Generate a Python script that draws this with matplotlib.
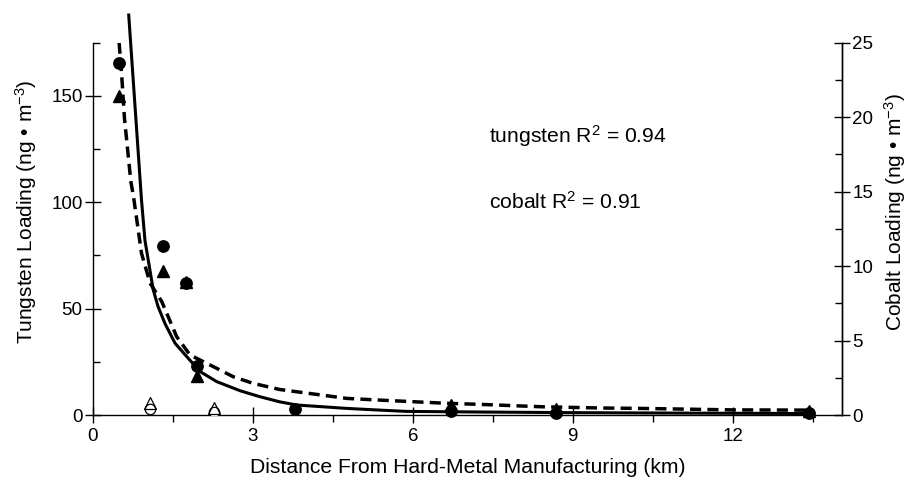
import matplotlib
matplotlib.use("Agg")
import matplotlib.pyplot as plt
from matplotlib.ticker import MultipleLocator

plt.rcParams['font.family'] = ['Liberation Sans', 'DejaVu Sans']
plt.rcParams['mathtext.fontset'] = 'custom'
plt.rcParams['mathtext.rm'] = 'Liberation Sans'
plt.rcParams['mathtext.it'] = 'Liberation Sans'

# measured data (km)
tungsten_x = [0.49, 1.31, 1.74, 1.96, 3.79, 6.71, 8.68, 13.43]
tungsten_y = [165.5, 79.3, 62.0, 23.0, 3.0, 2.0, 1.0, 1.0]
cobalt_x = [0.49, 1.31, 1.74, 1.96, 6.71, 8.68, 13.43]
cobalt_y = [21.4, 9.7, 8.9, 2.6, 0.65, 0.4, 0.3]
# open symbols (excluded points)
open_w_x = [1.07, 2.27]
open_w_y = [3.0, 1.6]
open_co_x = [1.07, 2.27]
open_co_y = [0.78, 0.5]

# fitted curves (tungsten units)
fit_w_x = [0.67, 0.91, 0.975, 1.13, 1.22, 1.35, 1.54, 1.76, 2.01, 2.32, 2.76, 3.13, 3.5, 3.82, 4.76, 5.38, 5.88, 7.26, 9.0, 11.0, 13.4]
fit_w_y = [188, 101, 82, 58.8, 51, 43, 33.7, 27.4, 20.4, 15.7, 11.4, 8.6, 6.2, 4.7, 3.1, 2.3, 1.7, 1.4, 1.1, 0.9, 0.7]
fit_co_x = [0.49, 0.54, 0.59, 0.65, 0.71, 0.76, 0.91, 1.07, 1.29, 1.57, 1.82, 2.26, 2.63, 3.0, 3.5, 4.76, 5.38, 6.63, 7.26, 8.38, 9.5, 10.26, 12.0, 13.4]
fit_co_y = [175, 159, 139.5, 124.6, 109.7, 102.6, 76, 62, 53.3, 36.8, 28.2, 22.7, 18, 14.9, 12, 7.8, 7.0, 5.5, 5.0, 3.9, 3.3, 3.1, 2.4, 2.3]

x_ticks = [0, 3, 6, 9, 12]
left_ticks = [0, 50, 100, 150]
right_ticks = [0, 5, 10, 15, 20, 25]

fig = plt.figure(figsize=(9.13, 4.82), dpi=100)
ax = fig.add_axes([93/913, 1-415/482, (842-93)/913, (415-42.7)/482])
ax2 = ax.twinx()

ax.plot(fit_w_x, fit_w_y, color='black', lw=2.2, clip_on=False, zorder=3,
        solid_joinstyle='round')
ax.plot(fit_co_x, fit_co_y, color='black', lw=2.5, ls=(0, (3.2, 1.8)), zorder=3)

ax.plot(tungsten_x, tungsten_y, 'o', color='black', ms=8.2, zorder=4, clip_on=False)
ax2.plot(cobalt_x, cobalt_y, '^', color='black', ms=8.2, zorder=4, clip_on=False)
ax.plot(open_w_x, open_w_y, 'o', mfc='white', mec='black', mew=0.9, ms=7.5, zorder=4)
ax2.plot(open_co_x, open_co_y, '^', mfc='none', mec='black', mew=0.9, ms=8, zorder=5)

ax.set_xlim(0, 14.05)
ax.set_ylim(0, 175)
ax2.set_ylim(0, 25)

ax.set_xticks(x_ticks)
ax.xaxis.set_minor_locator(MultipleLocator(1.5))
ax.set_yticks(left_ticks)
ax.yaxis.set_minor_locator(MultipleLocator(25))
ax2.set_yticks(right_ticks)
ax2.yaxis.set_minor_locator(MultipleLocator(2.5))

for a in (ax, ax2):
    a.spines['top'].set_visible(False)
    for s in a.spines.values():
        s.set_linewidth(1.0)
ax2.spines['left'].set_visible(False)
ax2.spines['bottom'].set_visible(False)

ax.tick_params(axis='x', which='major', direction='inout', length=11, width=1.0, labelsize=13.5, pad=4)
ax.tick_params(axis='x', which='minor', direction='out', length=5, width=1.0)
ax.tick_params(axis='y', which='major', direction='inout', length=11, width=1.0, labelsize=13.5, pad=2)
ax.tick_params(axis='y', which='minor', direction='in', length=5, width=1.0)
ax2.tick_params(axis='y', which='major', direction='inout', length=11, width=1.0, labelsize=13.5, pad=2)
ax2.tick_params(axis='y', which='minor', direction='in', length=5, width=1.0)

ax.set_xlabel('Distance From Hard-Metal Manufacturing (km)', fontsize=15.2, labelpad=9)
ax.set_ylabel('Tungsten Loading (ng \u2022 m$^{-3}$)', fontsize=15.0, labelpad=9)
ax2.set_ylabel('Cobalt Loading (ng \u2022 m$^{-3}$)', fontsize=15.0, labelpad=6)
ax.yaxis.label.set_y(0.545)
ax2.yaxis.label.set_y(0.545)

ax.text(7.43, 131, 'tungsten R$^2$ = 0.94', fontsize=15.2, ha='left', va='center')
ax.text(7.43, 100, 'cobalt R$^2$ = 0.91', fontsize=15.2, ha='left', va='center')

fig.savefig('out.png', dpi=100)
